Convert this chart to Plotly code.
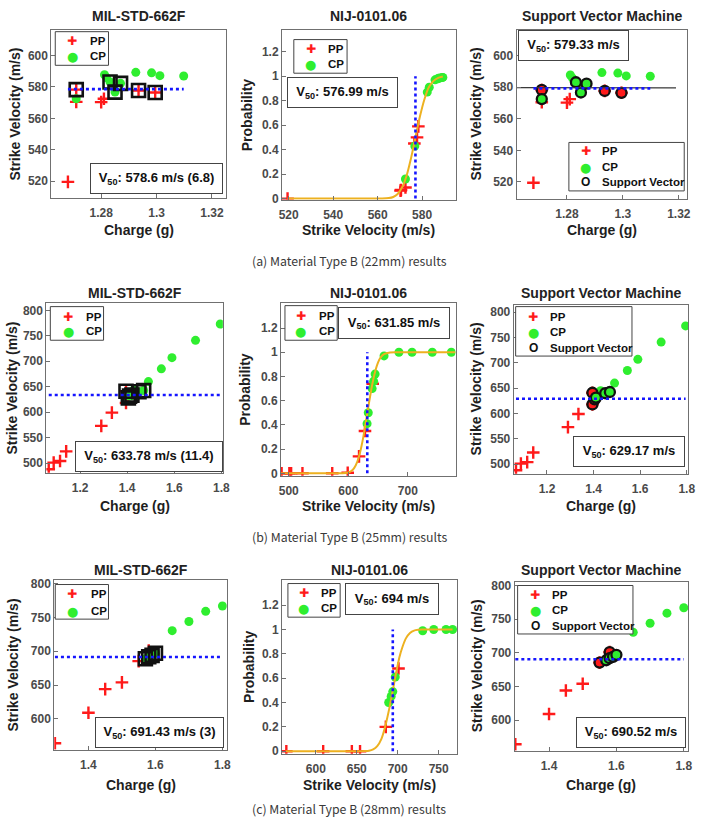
import plotly.graph_objects as go

W, H = 707, 817
FONT = "Liberation Sans, Arial, Helvetica, sans-serif"

# ================= DATA =================
# (a) Material Type B (22mm)
pp_charge_22 = [1.268, 1.271, 1.271, 1.280, 1.281, 1.2935, 1.2995]
pp_vel_22 = [519.5, 570.5, 578.3, 570.3, 572.5, 577.7, 576.5]
pp_prob_22 = [0.0, 0.07, 0.59, 0.065, 0.09, 0.50, 0.45]
cp_charge_22 = [1.271, 1.2812, 1.2820, 1.2832, 1.2850, 1.2870, 1.2925, 1.2982, 1.3012, 1.3098]
cp_vel_22 = [572.5, 587.8, 585.8, 583.2, 576.7, 582.3, 589.3, 589.0, 587.2, 587.0]
cp_prob_22 = [0.16, 0.985, 0.97, 0.91, 0.43, 0.87, 0.99, 0.99, 0.98, 0.98]
mil_pp_sel_22 = [2, 5, 6]
mil_cp_sel_22 = [3, 4, 5]
sv_pp_sel_22 = [2, 5, 6]
sv_cp_sel_22 = [0, 3, 4, 5]
curve_vel_22 = [519.5, 530, 540, 550, 558, 562, 565, 567, 569, 571, 573, 575, 577, 579, 581, 583, 585, 587, 589.3]
curve_prob_22 = [0.0, 0.0, 0.0, 0.0, 0.0, 0.0005, 0.004, 0.013, 0.038, 0.092, 0.187, 0.33, 0.50,
                 0.67, 0.81, 0.91, 0.96, 0.985, 0.997]
svm_line_charge_22 = [1.262, 1.319]
svm_line_vel_22 = [579.8, 579.6]
v50_mil_22, sd_mil_22, v50_nij_22, v50_svm_22 = 578.6, 6.8, 576.99, 579.33

# (b) Material Type B (25mm)
pp_charge_25 = [1.067, 1.088, 1.115, 1.141, 1.290, 1.335, 1.395, 1.405, 1.395]
pp_vel_25 = [488, 501, 504, 523, 573, 599, 618, 628, 641]
pp_prob_25 = [0, 0, 0, 0, 0, 0.005, 0.14, 0.35, 0.74]
cp_charge_25 = [1.410, 1.420, 1.430, 1.450, 1.470, 1.490, 1.545, 1.590, 1.690, 1.795]
cp_vel_25 = [631.5, 633.5, 645, 640, 642.5, 660, 685, 707, 741, 773]
cp_prob_25 = [0.41, 0.50, 0.82, 0.70, 0.76, 0.97, 1.0, 1.0, 1.0, 1.0]
mil_pp_sel_25 = [7, 8]
mil_cp_sel_25 = [0, 1, 3, 4]
sv_pp_sel_25 = [6, 7, 8]
sv_cp_sel_25 = [0, 3, 4]
curve_vel_25 = [487, 520, 560, 590, 600, 605, 610, 615, 620, 625, 630, 635, 640, 645, 650, 655, 660, 670, 680, 700, 780]
curve_prob_25 = [0, 0, 0, 0.001, 0.007, 0.019, 0.045, 0.095, 0.178, 0.295, 0.44, 0.59, 0.73, 0.84,
                 0.917, 0.962, 0.984, 0.998, 1.0, 1.0, 1.0]
v50_mil_25, sd_mil_25, v50_nij_25, v50_svm_25 = 633.78, 11.4, 631.85, 629.17

# (c) Material Type B (28mm)
pp_charge_28 = [1.300, 1.400, 1.450, 1.500, 1.550, 1.580]
pp_vel_28 = [564, 609, 644, 654, 685.5, 701]
pp_prob_28 = [0, 0, 0, 0, 0.20, 0.68]
cp_charge_28 = [1.570, 1.580, 1.590, 1.600, 1.650, 1.700, 1.750, 1.800]
cp_vel_28 = [689, 692, 694, 697, 730.5, 744, 759, 767]
cp_prob_28 = [0.40, 0.45, 0.49, 0.61, 0.99, 1.0, 1.0, 1.0]
mil_pp_sel_28 = []
mil_cp_sel_28 = [0, 1, 2, 3]
sv_pp_sel_28 = [4, 5]
sv_cp_sel_28 = [0, 1, 2, 3]
curve_vel_28 = [563, 600, 640, 655, 660, 665, 670, 675, 680, 685, 690, 694, 698, 702, 706, 710, 715, 720, 725, 730, 767]
curve_prob_28 = [0, 0, 0, 0.0002, 0.001, 0.004, 0.015, 0.042, 0.10, 0.21, 0.36, 0.50, 0.64, 0.77,
                 0.86, 0.927, 0.972, 0.991, 0.997, 0.999, 1.0]
v50_mil_28, sd_mil_28, v50_nij_28, v50_svm_28 = 691.43, 3, 694, 690.52

titles = ["MIL-STD-662F", "NIJ-0101.06", "Support Vector Machine"]
captions = ["(a) Material Type B (22mm) results", "(b) Material Type B (25mm) results",
            "(c) Material Type B (28mm) results"]
legend_names = ["PP", "CP", "Support Vector"]
prob_ticks = [0, 0.2, 0.4, 0.6, 0.8, 1, 1.2]
prob_ticktext = ["0", "0.2", "0.4", "0.6", "0.8", "1", "1.2"]

rows = [
    dict(pp_c=pp_charge_22, pp_v=pp_vel_22, pp_p=pp_prob_22, cp_c=cp_charge_22, cp_v=cp_vel_22, cp_p=cp_prob_22,
         mil_pp=mil_pp_sel_22, mil_cp=mil_cp_sel_22, sv_pp=sv_pp_sel_22, sv_cp=sv_cp_sel_22,
         cv=curve_vel_22, cpb=curve_prob_22, v_mil=v50_mil_22, sd=sd_mil_22, v_nij=v50_nij_22, v_svm=v50_svm_22,
         svm_line=(svm_line_charge_22, svm_line_vel_22),
         cx_ticks=[1.28, 1.30, 1.32], cx_text=["1.28", "1.3", "1.32"], cy_ticks=[520, 540, 560, 580, 600],
         nx_ticks=[520, 540, 560, 580]),
    dict(pp_c=pp_charge_25, pp_v=pp_vel_25, pp_p=pp_prob_25, cp_c=cp_charge_25, cp_v=cp_vel_25, cp_p=cp_prob_25,
         mil_pp=mil_pp_sel_25, mil_cp=mil_cp_sel_25, sv_pp=sv_pp_sel_25, sv_cp=sv_cp_sel_25,
         cv=curve_vel_25, cpb=curve_prob_25, v_mil=v50_mil_25, sd=sd_mil_25, v_nij=v50_nij_25, v_svm=v50_svm_25,
         svm_line=None,
         cx_ticks=[1.2, 1.4, 1.6, 1.8], cx_text=["1.2", "1.4", "1.6", "1.8"],
         cy_ticks=[500, 550, 600, 650, 700, 750, 800], nx_ticks=[500, 600, 700]),
    dict(pp_c=pp_charge_28, pp_v=pp_vel_28, pp_p=pp_prob_28, cp_c=cp_charge_28, cp_v=cp_vel_28, cp_p=cp_prob_28,
         mil_pp=mil_pp_sel_28, mil_cp=mil_cp_sel_28, sv_pp=sv_pp_sel_28, sv_cp=sv_cp_sel_28,
         cv=curve_vel_28, cpb=curve_prob_28, v_mil=v50_mil_28, sd=sd_mil_28, v_nij=v50_nij_28, v_svm=v50_svm_28,
         svm_line=None,
         cx_ticks=[1.4, 1.6, 1.8], cx_text=["1.4", "1.6", "1.8"],
         cy_ticks=[600, 650, 700, 750, 800], nx_ticks=[600, 650, 700, 750]),
]

# ================= LAYOUT GEOMETRY (pixels) =================
boxes = {1: (49, 226, 27, 197), 2: (283, 459, 27, 199), 3: (521, 694, 27, 198),
         4: (44, 223, 303, 475), 5: (282, 459, 303, 478), 6: (518, 695, 305, 476),
         7: (52, 227, 583, 755), 8: (283, 461, 583, 759), 9: (519, 695, 585, 756)}
xranges = {1: [1.262, 1.325], 2: [517, 595], 3: [1.262, 1.323],
           4: [1.057, 1.806], 5: [487, 780], 6: [1.057, 1.806],
           7: [1.298, 1.813], 8: [558.7, 773], 9: [1.298, 1.813]}
yranges = {1: [509.3, 616.5], 2: [-0.01, 1.38], 3: [509.3, 616.5],
           4: [481, 815], 5: [-0.02, 1.41], 6: [481, 815],
           7: [554.5, 806], 8: [-0.02, 1.41], 9: [554.5, 806]}
# legend boxes: (left, right, top, bottom), row centres, symbol x, text x
legend_geo = {1: ((53, 107, 29, 63), [38, 54], 70, 86),
              2: ((295, 349, 37, 71), [47, 62], 312, 328),
              3: ((574, 691, 141, 190), [150, 166, 181], 591, 606),
              4: ((48, 102, 307, 341), [317, 332], 66, 82),
              5: ((286, 339, 306, 341), [316, 332], 302, 318),
              6: ((520, 638, 307, 357), [317, 333, 349], 538, 553),
              7: ((53, 107, 588, 623), [598, 615], 70, 87),
              8: ((289, 342, 587, 621), [597, 612], 305, 321),
              9: ((522, 639, 589, 638), [599, 614, 630], 540, 555)}
v50_box = {1: (89, 222, 162, 193), 2: (289, 400, 75, 106), 3: (523, 634, 27, 58),
           4: (74, 222, 443, 474), 5: (341, 453, 308, 340), 6: (579, 691, 438, 469),
           7: (94, 223, 722, 753), 8: (348, 442, 587, 619), 9: (582, 692, 722, 753)}
title_y = [13, 293, 573]
xtitle_y = [230, 509, 791]
ytitle_x = {1: 12, 2: 247, 3: 480, 4: 9, 5: 246, 6: 480, 7: 10, 8: 249, 9: 481}
caption_y = [261, 540, 815]

RED = "#ff1a1a"
GREEN = "#2fee2f"
BLUE = "#1515ff"
ORANGE = "#edb120"
legend_symbols = [("\u271a", RED, "DejaVu Sans", 12), ("\u25cf", GREEN, "DejaVu Sans", 13),
                  ("O", "#111111", FONT, 12)]


def ax_id(k):
    return "" if k == 1 else str(k)


fig = go.Figure()
annotations = []
shapes = []
layout = dict(width=W, height=H, margin=dict(l=0, r=0, t=0, b=0),
              paper_bgcolor="white", plot_bgcolor="white", showlegend=False)

tickfont = dict(family=FONT, size=12, color="#4a4a4a", weight="bold")


def pick(arr, idx):
    return [arr[i] for i in idx]


def pp_trace(x, y, k):
    return go.Scatter(x=x, y=y, mode="markers", name="PP",
                      marker=dict(symbol="cross-thin", size=9, color=RED, line=dict(color=RED, width=2.4)),
                      xaxis="x" + ax_id(k), yaxis="y" + ax_id(k), hoverinfo="skip")


def cp_trace(x, y, k):
    return go.Scatter(x=x, y=y, mode="markers", name="CP",
                      marker=dict(symbol="circle", size=9, color=GREEN),
                      xaxis="x" + ax_id(k), yaxis="y" + ax_id(k), hoverinfo="skip")


def line_trace(x, y, k, color, dash, width):
    return go.Scatter(x=x, y=y, mode="lines",
                      line=dict(color=color, dash=dash, width=width),
                      xaxis="x" + ax_id(k), yaxis="y" + ax_id(k), hoverinfo="skip")


def pxx(v):
    return v / W


def pxy(v):
    return 1 - v / H


for r, d in enumerate(rows):
    all_c = d["pp_c"] + d["cp_c"]
    cmin, cmax = min(all_c), max(all_c)
    # ---------- MIL-STD ----------
    k = r * 3 + 1
    fig.add_trace(pp_trace(d["pp_c"], d["pp_v"], k))
    fig.add_trace(cp_trace(d["cp_c"], d["cp_v"], k))
    sq_x = pick(d["pp_c"], d["mil_pp"]) + pick(d["cp_c"], d["mil_cp"])
    sq_y = pick(d["pp_v"], d["mil_pp"]) + pick(d["cp_v"], d["mil_cp"])
    fig.add_trace(go.Scatter(x=sq_x, y=sq_y, mode="markers",
                             marker=dict(symbol="square-open", size=13, color="#111111",
                                         line=dict(width=2.6, color="#111111")),
                             xaxis="x" + ax_id(k), yaxis="y" + ax_id(k), hoverinfo="skip"))
    fig.add_trace(line_trace([cmin, cmax], [d["v_mil"], d["v_mil"]], k, BLUE, "dot", 2.6))
    # ---------- NIJ ----------
    k = r * 3 + 2
    fig.add_trace(pp_trace(d["pp_v"], d["pp_p"], k))
    fig.add_trace(cp_trace(d["cp_v"], d["cp_p"], k))
    fig.add_trace(go.Scatter(x=d["cv"], y=d["cpb"], mode="lines",
                             line=dict(color=ORANGE, width=2, shape="spline", smoothing=0.6),
                             xaxis="x" + ax_id(k), yaxis="y" + ax_id(k), hoverinfo="skip"))
    fig.add_trace(line_trace([d["v_nij"], d["v_nij"]], [0, 1], k, BLUE, "dot", 2.6))
    # ---------- SVM ----------
    k = r * 3 + 3
    fig.add_trace(pp_trace(d["pp_c"], d["pp_v"], k))
    fig.add_trace(cp_trace(d["cp_c"], d["cp_v"], k))
    fig.add_trace(go.Scatter(x=pick(d["pp_c"], d["sv_pp"]), y=pick(d["pp_v"], d["sv_pp"]), mode="markers",
                             marker=dict(symbol="circle", size=10, color=RED, line=dict(width=2.3, color="#111111")),
                             xaxis="x" + ax_id(k), yaxis="y" + ax_id(k), hoverinfo="skip"))
    fig.add_trace(go.Scatter(x=pick(d["cp_c"], d["sv_cp"]), y=pick(d["cp_v"], d["sv_cp"]), mode="markers",
                             marker=dict(symbol="circle", size=10, color=GREEN, line=dict(width=2.3, color="#111111")),
                             xaxis="x" + ax_id(k), yaxis="y" + ax_id(k), hoverinfo="skip"))
    if d["svm_line"] is not None:
        fig.add_trace(line_trace(d["svm_line"][0], d["svm_line"][1], k, "#3a3a3a", "solid", 1.3))
    fig.add_trace(line_trace([cmin, cmax], [d["v_svm"], d["v_svm"]], k, BLUE, "dot", 2.6))

    # ---------- axes, legends, texts ----------
    v50_texts = [f"V<sub>50</sub>: {d['v_mil']} m/s ({d['sd']})",
                 f"V<sub>50</sub>: {d['v_nij']} m/s",
                 f"V<sub>50</sub>: {d['v_svm']} m/s"]
    for c in range(3):
        k = r * 3 + c + 1
        l, rr, t, b = boxes[k]
        if c == 1:
            xt, xtt = d["nx_ticks"], [str(v) for v in d["nx_ticks"]]
            yt, ytt = prob_ticks, prob_ticktext
        else:
            xt, xtt = d["cx_ticks"], d["cx_text"]
            yt, ytt = d["cy_ticks"], [str(v) for v in d["cy_ticks"]]
        common = dict(showgrid=False, zeroline=False, showline=True, mirror=True,
                      linecolor="#707070", linewidth=1, ticks="inside", ticklen=4,
                      tickcolor="#707070", tickfont=tickfont)
        layout["xaxis" + ax_id(k)] = dict(common, domain=[l / W, rr / W], range=xranges[k],
                                          tickvals=xt, ticktext=xtt, anchor="y" + ax_id(k),
                                          ticklabelstandoff=4)
        layout["yaxis" + ax_id(k)] = dict(common, domain=[1 - b / H, 1 - t / H], range=yranges[k],
                                          tickvals=yt, ticktext=ytt, anchor="x" + ax_id(k))
        # legend (box + symbol glyph + label)
        (gl, gr, gt, gb), row_y, sym_x, txt_x = legend_geo[k]
        shapes.append(dict(type="rect", xref="paper", yref="paper", x0=pxx(gl), x1=pxx(gr),
                           y0=pxy(gb), y1=pxy(gt), fillcolor="white",
                           line=dict(color="#444444", width=1), layer="above"))
        n_items = 3 if c == 2 else 2
        for i in range(n_items):
            sym, col, fam, sz = legend_symbols[i]
            annotations.append(dict(text=sym, x=pxx(sym_x), y=pxy(row_y[i]), xref="paper", yref="paper",
                                    showarrow=False, xanchor="center", yanchor="middle",
                                    font=dict(family=fam, size=sz, color=col, weight="bold")))
            annotations.append(dict(text=legend_names[i], x=pxx(txt_x), y=pxy(row_y[i]), xref="paper",
                                    yref="paper", showarrow=False, xanchor="left", yanchor="middle",
                                    font=dict(family=FONT, size=11.5, color="#111111", weight="bold")))
        # title
        annotations.append(dict(text=titles[c], x=pxx((l + rr) / 2), y=pxy(title_y[r]),
                                xref="paper", yref="paper", showarrow=False, xanchor="center", yanchor="middle",
                                font=dict(family=FONT, size=14, color="#222222", weight="bold")))
        # x title
        annotations.append(dict(text=("Strike Velocity (m/s)" if c == 1 else "Charge (g)"),
                                x=pxx((l + rr) / 2), y=pxy(xtitle_y[r]),
                                xref="paper", yref="paper", showarrow=False, xanchor="center", yanchor="middle",
                                font=dict(family=FONT, size=14, color="#1e1e1e", weight="bold")))
        # y title
        annotations.append(dict(text=("Probability" if c == 1 else "Strike Velocity (m/s)"),
                                x=pxx(ytitle_x[k]), y=pxy((t + b) / 2), textangle=-90,
                                xref="paper", yref="paper", showarrow=False, xanchor="center", yanchor="middle",
                                font=dict(family=FONT, size=14, color="#1e1e1e", weight="bold")))
        # V50 box
        bl, br, bt, bb = v50_box[k]
        annotations.append(dict(text=v50_texts[c], x=pxx((bl + br) / 2), y=pxy((bt + bb) / 2),
                                xref="paper", yref="paper", showarrow=False, xanchor="center", yanchor="middle",
                                width=br - bl - 2, height=bb - bt - 2, align="center", valign="middle",
                                bgcolor="white", bordercolor="#444444", borderwidth=1, borderpad=0,
                                font=dict(family=FONT, size=13, color="#111111", weight="bold")))
    annotations.append(dict(text=captions[r], x=pxx(351), y=pxy(caption_y[r]),
                            xref="paper", yref="paper", showarrow=False, xanchor="center", yanchor="middle",
                            font=dict(family="Noto Sans CJK KR, Noto Sans, sans-serif", size=12.3, color="#3a3a3a")))

layout["annotations"] = annotations
layout["shapes"] = shapes
fig.update_layout(**layout)
fig.write_html("out.html")
